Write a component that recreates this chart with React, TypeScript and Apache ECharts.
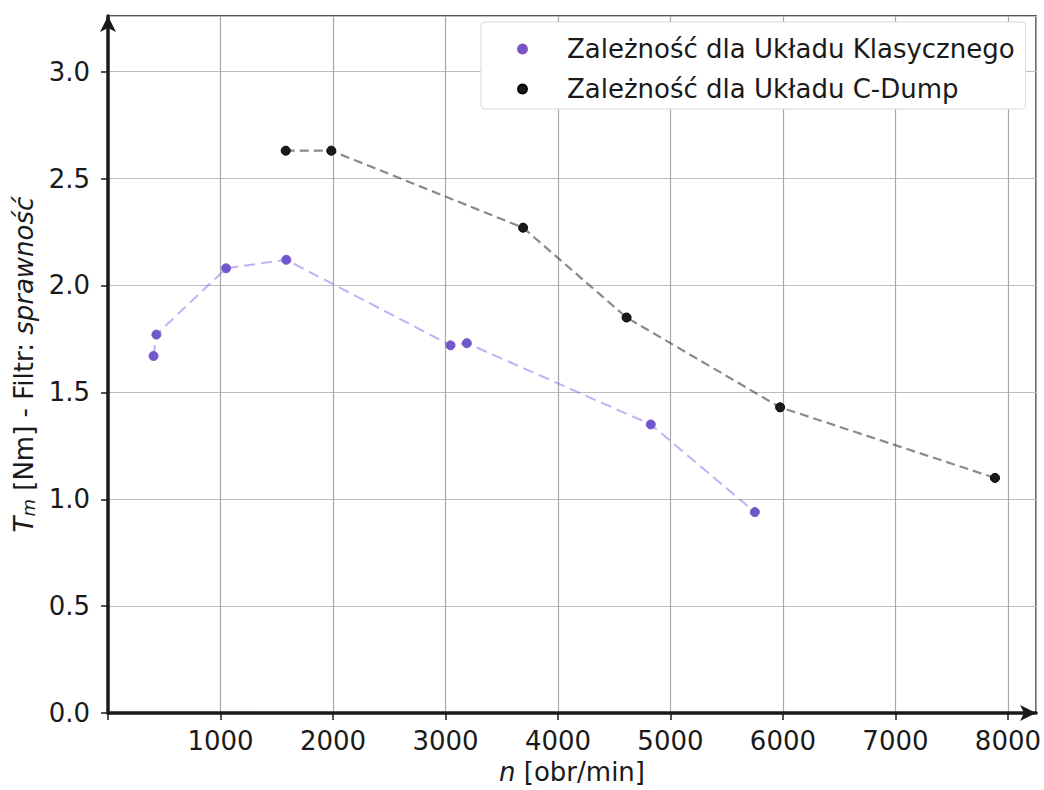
import React, { useEffect, useRef } from "react";
import * as echarts from "echarts";

const classicX = [405, 430, 1050, 1585, 3045, 3190, 4825, 5750];
const classicY = [1.67, 1.77, 2.08, 2.12, 1.72, 1.73, 1.35, 0.94];
const cdumpX = [1580, 1985, 3690, 4610, 5975, 7885];
const cdumpY = [2.63, 2.63, 2.27, 1.85, 1.43, 1.1];

const classicName = "Zależność dla Układu Klasycznego";
const cdumpName = "Zależność dla Układu C-Dump";

const FONT = "DejaVu Sans";
const FS = 26;

export default function App() {
  const ref = useRef<HTMLDivElement>(null);
  useEffect(() => {
    document.body.style.margin = "0";
    const chart = echarts.init(ref.current!, null, { renderer: "svg" });
    const pair = (xs: number[], ys: number[]) => xs.map((x, i) => [x, ys[i]]);
    chart.setOption({
      animation: false,
      backgroundColor: "#ffffff",
      grid: {
        left: 108,
        right: 7,
        top: 16,
        bottom: 76,
        show: true,
        borderColor: "#222",
        borderWidth: 1.5,
        backgroundColor: "transparent",
      },
      legend: {
        orient: "vertical",
        left: 481,
        top: 22,
        padding: [12, 11, 5, 36],
        itemGap: 10,
        itemWidth: 9,
        itemHeight: 9,
        backgroundColor: "#ffffff",
        borderColor: "#d8d8d8",
        borderWidth: 1,
        borderRadius: 4,
        data: [
          { name: classicName, icon: "circle" },
          { name: cdumpName, icon: "circle" },
        ],
        textStyle: {
          fontFamily: FONT,
          fontSize: FS,
          color: "#1a1a1a",
          lineHeight: 30,
          padding: [0, 0, 0, 35],
        },
      },
      xAxis: {
        type: "value",
        min: 0,
        max: 8250,
        interval: 1000,
        name: "{it|n} [obr/min]",
        nameLocation: "middle",
        nameGap: 42,
        nameTextStyle: {
          fontFamily: FONT,
          fontSize: FS,
          color: "#1a1a1a",
          rich: {
            it: { fontFamily: FONT, fontSize: FS, fontStyle: "italic", color: "#1a1a1a" },
          },
        },
        axisLine: {
          show: true,
          symbol: ["none", "arrow"],
          symbolSize: [12, 16],
          lineStyle: { color: "#1a1a1a", width: 3.5 },
        },
        axisTick: { show: true, length: 7, lineStyle: { color: "#1a1a1a", width: 1.5 } },
        axisLabel: {
          fontFamily: FONT,
          fontSize: FS,
          color: "#1a1a1a",
          margin: 15,
          showMaxLabel: false,
          formatter: (v: number) => (v === 0 || v > 8000 ? "" : String(v)),
        },
        splitLine: { show: true, lineStyle: { color: "#a8a8a8", width: 1.2 } },
      },
      yAxis: {
        type: "value",
        min: 0,
        max: 3.26,
        interval: 0.5,
        name: "{it|T}{sub|m} [Nm] - Filtr: {it|sprawność}",
        nameLocation: "middle",
        nameGap: 64,
        nameTextStyle: {
          fontFamily: FONT,
          fontSize: FS,
          color: "#1a1a1a",
          rich: {
            it: { fontFamily: FONT, fontSize: FS, fontStyle: "italic", color: "#1a1a1a" },
            sub: {
              fontFamily: FONT,
              fontSize: 18,
              fontStyle: "italic",
              color: "#1a1a1a",
              verticalAlign: "bottom",
              padding: [10, 0, 0, 0],
            },
          },
        },
        axisLine: {
          show: true,
          symbol: ["none", "arrow"],
          symbolSize: [12, 16],
          lineStyle: { color: "#1a1a1a", width: 3.5 },
        },
        axisTick: { show: true, length: 7, lineStyle: { color: "#1a1a1a", width: 1.5 } },
        axisLabel: {
          fontFamily: FONT,
          fontSize: FS,
          color: "#1a1a1a",
          margin: 18,
          showMaxLabel: false,
          formatter: (v: number) => (v > 3.01 ? "" : v.toFixed(1)),
        },
        splitLine: { show: true, lineStyle: { color: "#bdbdbd", width: 1.2 } },
      },
      series: [
        {
          name: classicName,
          type: "line",
          data: pair(classicX, classicY),
          symbol: "circle",
          symbolSize: 9,
          itemStyle: { color: "#6a5acd", borderColor: "#8a4fc0", borderWidth: 1 },
          lineStyle: { color: "rgba(123,104,238,0.5)", width: 2, type: [11, 6] },
        },
        {
          name: cdumpName,
          type: "line",
          data: pair(cdumpX, cdumpY),
          symbol: "circle",
          symbolSize: 9,
          itemStyle: { color: "#1a1a1a", borderColor: "#000", borderWidth: 1 },
          lineStyle: { color: "rgba(60,60,60,0.6)", width: 2.2, type: [9, 5] },
        },
      ],
    });
    return () => chart.dispose();
  }, []);
  return <div ref={ref} style={{ width: 1044, height: 790 }} />;
}
